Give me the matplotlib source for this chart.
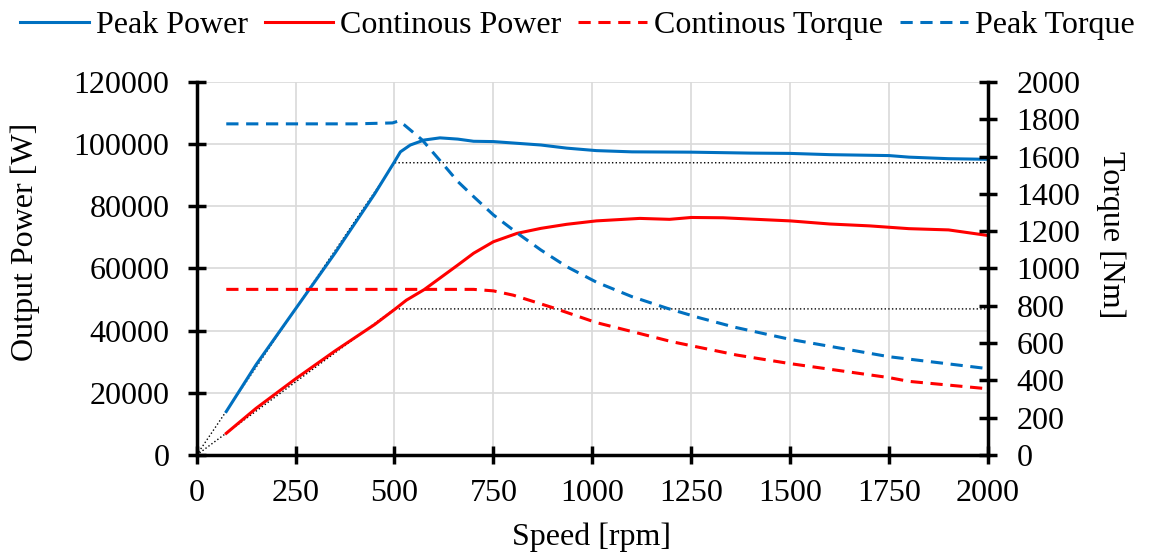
import matplotlib
matplotlib.use('Agg')
import matplotlib.pyplot as plt

plt.rcParams['font.family'] = ['Liberation Serif', 'DejaVu Serif']
plt.rcParams['font.size'] = 23

# Peak power [W] vs speed [rpm]
peak_speed = [75, 150, 250, 350, 450, 500, 515, 540, 575, 615, 660, 700, 750, 870,
              935, 1010, 1100, 1250, 1400, 1500, 1600, 1750, 1800, 1900, 2000]
peak_power = [14000, 29000, 47000, 65000, 84000, 94300, 97500, 99700, 101300, 102000,
              101600, 100900, 100800, 99700, 98700, 97900, 97500, 97400, 97100, 97000,
              96600, 96300, 95800, 95300, 95100]

# Continuous power [W]
cont_speed = [75, 150, 250, 350, 450, 500, 530, 575, 660, 700, 750, 810, 870, 935,
              1010, 1120, 1195, 1250, 1330, 1500, 1600, 1700, 1800, 1900, 2000]
cont_power = [7000, 15000, 24500, 33500, 42000, 46800, 49800, 53200, 61100, 64900,
              68600, 71300, 72900, 74200, 75300, 76100, 75800, 76400, 76300, 75300,
              74300, 73700, 72800, 72400, 70600]

# Peak torque [Nm]
ptq_speed = [75, 200, 400, 495, 510, 525, 570, 620, 660, 700, 750, 810, 870, 935,
             1010, 1100, 1190, 1270, 1360, 1450, 1500, 1750, 2000]
ptq_torque = [1775, 1775, 1775, 1780, 1790, 1769, 1689, 1566, 1466, 1385, 1287, 1190,
              1099, 1010, 927, 849, 786, 736, 685, 643, 620, 527, 463]

# Continuous torque [Nm]
ctq_speed = [75, 300, 500, 700, 750, 800, 900, 1010, 1100, 1200, 1250, 1365, 1500,
             1750, 1800, 2000]
ctq_torque = [888, 888, 888, 888, 880, 857, 790, 710, 662, 608, 586, 536, 490,
              415, 395, 355]

# Reference limit lines
lim_speed = [0, 500, 2000]
lim_peak = [0, 94000, 94000]
lim_cont = [0, 47000, 47000]

blue = '#0070C0'
red = '#FF0000'

fig = plt.figure(figsize=(11.53, 5.57), dpi=100)
ax = fig.add_axes([0.1705, 0.183, 0.6865, 0.670])
ax2 = ax.twinx()

ax.plot(lim_speed, lim_peak, color='black', ls=':', lw=1.0, zorder=2)
ax.plot(lim_speed, lim_cont, color='black', ls=':', lw=1.0, zorder=2)
l1, = ax.plot(peak_speed, peak_power, color=blue, lw=2.2, label='Peak Power', zorder=3)
l2, = ax.plot(cont_speed, cont_power, color=red, lw=2.2, label='Continous Power', zorder=3)
l3, = ax2.plot(ctq_speed, ctq_torque, color=red, lw=2.2, ls=(0, (4, 2.5)),
               label='Continous Torque')
l4, = ax2.plot(ptq_speed, ptq_torque, color=blue, lw=2.2, ls=(0, (4, 2.5)),
               label='Peak Torque')

ax.set_xlim(0, 2000)
ax.set_ylim(0, 120000)
ax2.set_ylim(0, 2000)
ax.set_xticks(range(0, 2001, 250))
ax.set_yticks(range(0, 120001, 20000))
ax2.set_yticks(range(0, 2001, 200))

ax.grid(True, color='#D9D9D9', lw=1.2)
ax.set_axisbelow(True)

for a in (ax, ax2):
    for s in a.spines.values():
        s.set_linewidth(2.5)
    a.spines['top'].set_visible(False)
ax.spines['right'].set_visible(False)
ax2.spines['left'].set_visible(False)
ax2.spines['bottom'].set_visible(False)

ax.tick_params(axis='y', direction='inout', length=13, width=2.5, pad=13)
ax.tick_params(axis='x', direction='inout', length=13, width=2.5, pad=11)
ax2.tick_params(axis='y', direction='inout', length=13, width=2.5, pad=14)

fig.text(0.513, 0.036, 'Speed [rpm]', ha='center', va='center')
fig.text(0.022, 0.566, 'Output Power [W]', ha='center', va='center', rotation=90)
fig.text(0.963, 0.578, 'Torque [Nm]', ha='center', va='center', rotation=270)

fig.legend(handles=[l1, l2, l3, l4], loc='center', bbox_to_anchor=(0.501, 0.955),
           ncol=4, frameon=False, handlelength=2.15, handletextpad=0.22,
           columnspacing=0.52, fontsize=23)

fig.savefig('out.png', dpi=100)
